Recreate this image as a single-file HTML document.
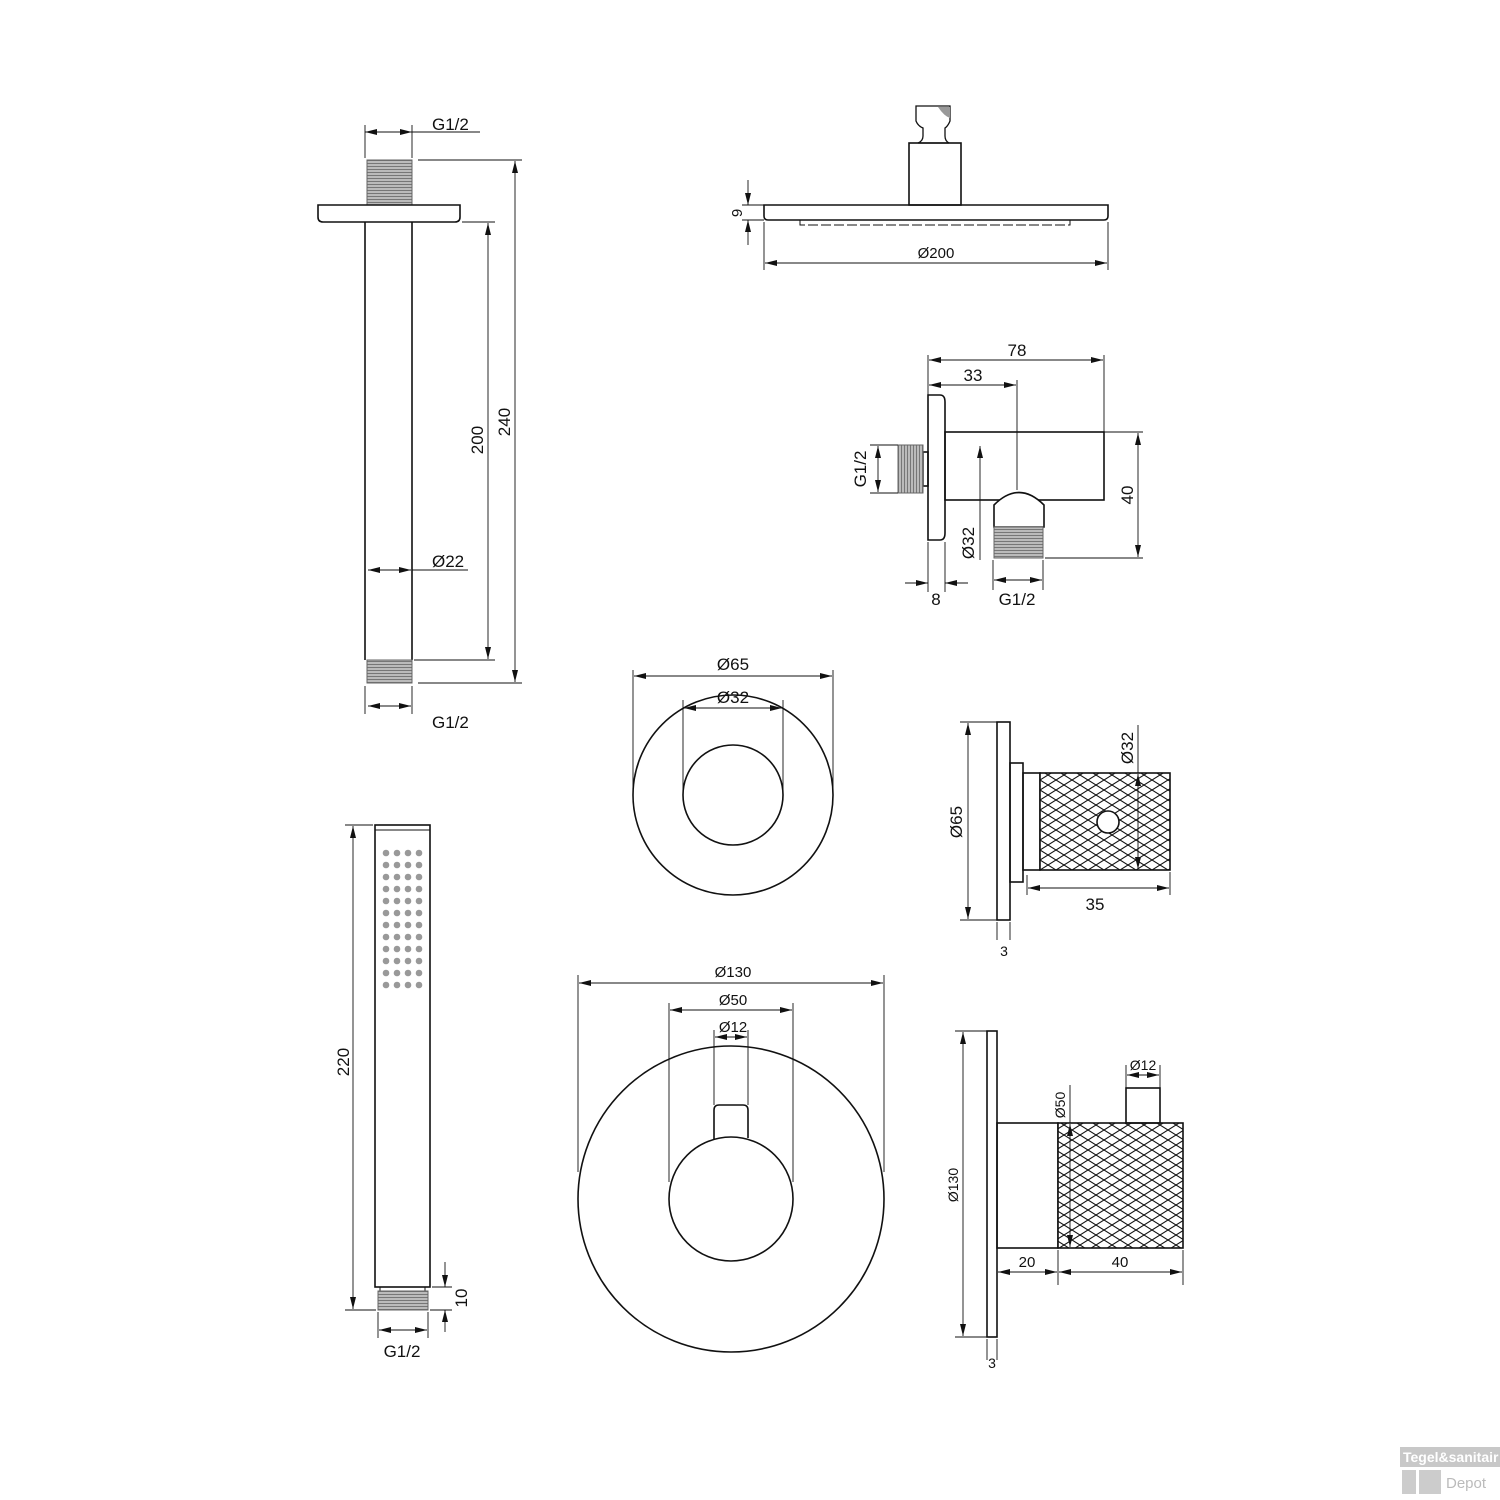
<!DOCTYPE html>
<html><head><meta charset="utf-8"><style>
html,body{margin:0;padding:0;background:#fff;}
svg{display:block;}
text{font-family:"Liberation Sans",sans-serif;fill:#111;}
</style></head><body>
<svg width="1500" height="1500" viewBox="0 0 1500 1500" xmlns="http://www.w3.org/2000/svg">
<defs>
<marker id="a" viewBox="0 0 12 6" refX="12" refY="3" markerWidth="12" markerHeight="6" markerUnits="userSpaceOnUse" orient="auto-start-reverse"><path d="M0,0 L12,3 L0,6 Z" fill="#111"/></marker>
<pattern id="th" width="6" height="3" patternUnits="userSpaceOnUse"><rect width="6" height="3" fill="#bbb"/><line x1="0" y1="1.5" x2="6" y2="1.5" stroke="#777" stroke-width="1"/></pattern>
<pattern id="thv" width="3" height="6" patternUnits="userSpaceOnUse"><rect width="3" height="6" fill="#bbb"/><line x1="1.5" y1="0" x2="1.5" y2="6" stroke="#777" stroke-width="1"/></pattern>
<pattern id="kn" width="16" height="10" patternUnits="userSpaceOnUse"><rect width="16" height="10" fill="#fff"/><path d="M0,0 L16,10 M0,10 L16,0 M-8,5 L0,10 M8,-5 L24,5 M-8,5 L8,-5 M8,15 L24,5" stroke="#111" stroke-width="1.1" fill="none"/></pattern>
</defs>
<g fill="none" stroke="#111" stroke-width="1.6">
<!-- ceiling arm -->
<rect x="367" y="160" width="45" height="45" fill="url(#th)" stroke="#666" stroke-width="1"/>
<path d="M318,205 H460 V217 Q460,222 455,222 H323 Q318,222 318,217 Z"/>
<path d="M365,222 V660 M412,222 V660"/>
<rect x="367" y="660" width="45" height="23" fill="url(#th)" stroke="#666" stroke-width="1"/>
</g>
<g fill="none" stroke="#111" stroke-width="0.9">
<path d="M365,125 V158 M412,125 V158 M412,132 H480"/>
<line x1="389" y1="132" x2="365" y2="132" marker-end="url(#a)"/><line x1="389" y1="132" x2="412" y2="132" marker-end="url(#a)"/>
<path d="M418,160 H522 M418,683 H522 M462,222 H495 M414,660 H495"/>
<line x1="515" y1="161" x2="515" y2="682" marker-start="url(#a)" marker-end="url(#a)"/>
<line x1="488" y1="223" x2="488" y2="659" marker-start="url(#a)" marker-end="url(#a)"/>
<line x1="368" y1="570" x2="411" y2="570" marker-start="url(#a)" marker-end="url(#a)"/><path d="M412,570 H468"/>
<path d="M365,686 V714 M412,686 V714"/>
<line x1="368" y1="706" x2="411" y2="706" marker-start="url(#a)" marker-end="url(#a)"/>
</g>
<text x="432" y="130" font-size="17">G1/2</text>
<text x="432" y="728" font-size="17">G1/2</text>
<text x="432" y="567" font-size="17">Ø22</text>
<text font-size="17" transform="translate(510,422) rotate(-90)" text-anchor="middle">240</text>
<text font-size="17" transform="translate(483,440) rotate(-90)" text-anchor="middle">200</text>

<!-- shower head -->
<g fill="none" stroke="#111" stroke-width="1.6">
<path d="M916,106 H950 V121 Q948,126 945,128 V136 Q945,141 949,143 H918 Q923,141 923,136 V128 Q918,126 916,121 Z" stroke-width="1.3"/>
<rect x="909" y="143" width="52" height="62"/>
<path d="M764,205 H1108 V216 Q1108,220 1104,220 H768 Q764,220 764,216 Z"/>
<path d="M800,220 V225 H1070 V220" stroke-width="1" stroke-dasharray="10,3"/>
</g>
<path d="M938,107 H950 V118 Q944,116 938,107 Z" fill="#999"/>
<g fill="none" stroke="#111" stroke-width="0.9">
<path d="M742,205 H764 M742,220 H764 M764,222 V270 M1108,222 V270"/>
<line x1="748" y1="180" x2="748" y2="205" marker-end="url(#a)"/><line x1="748" y1="245" x2="748" y2="220" marker-end="url(#a)"/>
<line x1="765" y1="263" x2="1107" y2="263" marker-start="url(#a)" marker-end="url(#a)"/>
</g>
<text font-size="15" transform="translate(742,213) rotate(-90)" text-anchor="middle">9</text>
<text x="936" y="258" font-size="15" text-anchor="middle">Ø200</text>

<!-- wall outlet -->
<g fill="none" stroke="#111" stroke-width="1.6">
<path d="M928,395 H940 Q945,395 945,402 V533 Q945,540 940,540 H928 Z"/>
<rect x="945" y="432" width="159" height="68"/>
<rect x="923" y="452" width="5" height="34"/>
<rect x="898" y="445" width="25" height="48" fill="url(#thv)" stroke="#666" stroke-width="1"/>
<path d="M994,527 V505 Q1019,480 1044,505 V527 Z" fill="#fff"/>
<rect x="994" y="527" width="49" height="31" fill="url(#th)" stroke="#666" stroke-width="1"/>
</g>
<g fill="none" stroke="#111" stroke-width="0.9">
<path d="M928,355 V395 M1104,355 V432 M1017,380 V490 M1104,432 H1143 M1045,558 H1143 M870,445 H898 M870,493 H898 M928,542 V592 M945,542 V592 M993,560 V590 M1043,560 V590"/>
<line x1="929" y1="360" x2="1103" y2="360" marker-start="url(#a)" marker-end="url(#a)"/>
<line x1="929" y1="385" x2="1016" y2="385" marker-start="url(#a)" marker-end="url(#a)"/>
<line x1="1138" y1="433" x2="1138" y2="557" marker-start="url(#a)" marker-end="url(#a)"/>
<line x1="980" y1="446" x2="980" y2="560" marker-start="url(#a)"/>
<line x1="878" y1="446" x2="878" y2="492" marker-start="url(#a)" marker-end="url(#a)"/>
<line x1="905" y1="583" x2="928" y2="583" marker-end="url(#a)"/><line x1="968" y1="583" x2="945" y2="583" marker-end="url(#a)"/>
<line x1="994" y1="580" x2="1042" y2="580" marker-start="url(#a)" marker-end="url(#a)"/>
</g>
<text x="1017" y="356" font-size="17" text-anchor="middle">78</text>
<text x="973" y="381" font-size="17" text-anchor="middle">33</text>
<text font-size="17" transform="translate(1133,495) rotate(-90)" text-anchor="middle">40</text>
<text font-size="17" transform="translate(974,543) rotate(-90)" text-anchor="middle">Ø32</text>
<text font-size="17" transform="translate(866,469) rotate(-90)" text-anchor="middle">G1/2</text>
<text x="936" y="605" font-size="17" text-anchor="middle">8</text>
<text x="1017" y="605" font-size="17" text-anchor="middle">G1/2</text>

<!-- Ø65 rosette front -->
<g fill="none" stroke="#111" stroke-width="1.6">
<circle cx="733" cy="795" r="100"/><circle cx="733" cy="795" r="50"/>
</g>
<g fill="none" stroke="#111" stroke-width="0.9">
<path d="M633,670 V795 M833,670 V795 M683,700 V795 M783,700 V795"/>
<line x1="634" y1="676" x2="832" y2="676" marker-start="url(#a)" marker-end="url(#a)"/>
<line x1="684" y1="708" x2="782" y2="708" marker-start="url(#a)" marker-end="url(#a)"/>
</g>
<text x="733" y="670" font-size="17" text-anchor="middle">Ø65</text>
<text x="733" y="703" font-size="17" text-anchor="middle">Ø32</text>

<!-- knob side -->
<g fill="none" stroke="#111" stroke-width="1.6">
<rect x="997" y="722" width="13" height="198"/>
<rect x="1010" y="763" width="13" height="119"/>
<rect x="1023" y="773" width="17" height="97"/>
<rect x="1040" y="773" width="130" height="97" fill="url(#kn)"/>
<circle cx="1108" cy="822" r="11" fill="#fff"/>
</g>
<g fill="none" stroke="#111" stroke-width="0.9">
<path d="M960,722 H997 M960,920 H997 M997,922 V940 M1010,922 V940 M1027,875 V895 M1170,872 V895 M1138,725 V773"/>
<line x1="968" y1="723" x2="968" y2="919" marker-start="url(#a)" marker-end="url(#a)"/>
<line x1="1138" y1="774" x2="1138" y2="869" marker-start="url(#a)" marker-end="url(#a)"/>
<line x1="1028" y1="888" x2="1169" y2="888" marker-start="url(#a)" marker-end="url(#a)"/>
</g>
<text font-size="17" transform="translate(962,822) rotate(-90)" text-anchor="middle">Ø65</text>
<text font-size="17" transform="translate(1133,748) rotate(-90)" text-anchor="middle">Ø32</text>
<text x="1095" y="910" font-size="17" text-anchor="middle">35</text>
<text x="1004" y="956" font-size="14" text-anchor="middle">3</text>

<!-- thermostat front -->
<g fill="none" stroke="#111" stroke-width="1.6">
<circle cx="731" cy="1199" r="153"/>
<circle cx="731" cy="1199" r="62"/>
<path d="M714,1140 V1110 Q714,1105 719,1105 H743 Q748,1105 748,1110 V1138"/>
</g>
<g fill="none" stroke="#111" stroke-width="0.9">
<path d="M578,975 V1172 M884,975 V1172 M669,1003 V1182 M793,1003 V1182 M714,1030 V1105 M748,1030 V1105"/>
<line x1="579" y1="983" x2="883" y2="983" marker-start="url(#a)" marker-end="url(#a)"/>
<line x1="670" y1="1010" x2="792" y2="1010" marker-start="url(#a)" marker-end="url(#a)"/>
<line x1="715" y1="1037" x2="747" y2="1037" marker-start="url(#a)" marker-end="url(#a)"/>
</g>
<text x="733" y="977" font-size="15" text-anchor="middle">Ø130</text>
<text x="733" y="1005" font-size="15" text-anchor="middle">Ø50</text>
<text x="733" y="1032" font-size="15" text-anchor="middle">Ø12</text>

<!-- thermostat side -->
<g fill="none" stroke="#111" stroke-width="1.6">
<rect x="987" y="1031" width="10" height="306"/>
<rect x="997" y="1123" width="61" height="125"/>
<rect x="1058" y="1123" width="125" height="125" fill="url(#kn)"/>
<rect x="1126" y="1088" width="34" height="35"/>
</g>
<g fill="none" stroke="#111" stroke-width="0.9">
<path d="M955,1031 H987 M955,1337 H987 M987,1339 V1360 M997,1339 V1360 M1058,1250 V1285 M1183,1250 V1285 M1070,1085 V1123 M1126,1065 V1088 M1160,1065 V1088"/>
<line x1="963" y1="1032" x2="963" y2="1336" marker-start="url(#a)" marker-end="url(#a)"/>
<line x1="1070" y1="1124" x2="1070" y2="1247" marker-start="url(#a)" marker-end="url(#a)"/>
<line x1="998" y1="1272" x2="1057" y2="1272" marker-start="url(#a)" marker-end="url(#a)"/>
<line x1="1059" y1="1272" x2="1182" y2="1272" marker-start="url(#a)" marker-end="url(#a)"/>
<line x1="1127" y1="1075" x2="1159" y2="1075" marker-start="url(#a)" marker-end="url(#a)"/>
</g>
<text font-size="14" transform="translate(958,1185) rotate(-90)" text-anchor="middle">Ø130</text>
<text font-size="14" transform="translate(1065,1105) rotate(-90)" text-anchor="middle">Ø50</text>
<text x="1143" y="1070" font-size="14" text-anchor="middle">Ø12</text>
<text x="1027" y="1267" font-size="15" text-anchor="middle">20</text>
<text x="1120" y="1267" font-size="15" text-anchor="middle">40</text>
<text x="992" y="1368" font-size="14" text-anchor="middle">3</text>

<!-- hand shower -->
<g fill="none" stroke="#111" stroke-width="1.6">
<rect x="375" y="825" width="55" height="462"/>
<path d="M375,830 H430" stroke-width="1"/>
<rect x="380" y="1287" width="45" height="4" stroke-width="1"/>
<rect x="378" y="1291" width="50" height="19" fill="url(#th)" stroke="#666" stroke-width="1"/>
</g>
<g fill="#888" stroke="none" id="dots">
</g>
<g fill="none" stroke="#111" stroke-width="0.9">
<path d="M345,825 H373 M345,1310 H376 M432,1287 H452 M430,1310 H452 M378,1312 V1338 M428,1312 V1338"/>
<line x1="353" y1="826" x2="353" y2="1309" marker-start="url(#a)" marker-end="url(#a)"/>
<line x1="445" y1="1262" x2="445" y2="1287" marker-end="url(#a)"/><line x1="445" y1="1332" x2="445" y2="1310" marker-end="url(#a)"/>
<line x1="379" y1="1330" x2="427" y2="1330" marker-start="url(#a)" marker-end="url(#a)"/>
</g>
<text font-size="17" transform="translate(349,1062) rotate(-90)" text-anchor="middle">220</text>
<text font-size="17" transform="translate(467,1298) rotate(-90)" text-anchor="middle">10</text>
<text x="402" y="1357" font-size="17" text-anchor="middle">G1/2</text>
<g fill="#999" stroke="none">
<circle cx="386" cy="853" r="3.3"/><circle cx="397" cy="853" r="3.3"/><circle cx="408" cy="853" r="3.3"/><circle cx="419" cy="853" r="3.3"/>
<circle cx="386" cy="865" r="3.3"/><circle cx="397" cy="865" r="3.3"/><circle cx="408" cy="865" r="3.3"/><circle cx="419" cy="865" r="3.3"/>
<circle cx="386" cy="877" r="3.3"/><circle cx="397" cy="877" r="3.3"/><circle cx="408" cy="877" r="3.3"/><circle cx="419" cy="877" r="3.3"/>
<circle cx="386" cy="889" r="3.3"/><circle cx="397" cy="889" r="3.3"/><circle cx="408" cy="889" r="3.3"/><circle cx="419" cy="889" r="3.3"/>
<circle cx="386" cy="901" r="3.3"/><circle cx="397" cy="901" r="3.3"/><circle cx="408" cy="901" r="3.3"/><circle cx="419" cy="901" r="3.3"/>
<circle cx="386" cy="913" r="3.3"/><circle cx="397" cy="913" r="3.3"/><circle cx="408" cy="913" r="3.3"/><circle cx="419" cy="913" r="3.3"/>
<circle cx="386" cy="925" r="3.3"/><circle cx="397" cy="925" r="3.3"/><circle cx="408" cy="925" r="3.3"/><circle cx="419" cy="925" r="3.3"/>
<circle cx="386" cy="937" r="3.3"/><circle cx="397" cy="937" r="3.3"/><circle cx="408" cy="937" r="3.3"/><circle cx="419" cy="937" r="3.3"/>
<circle cx="386" cy="949" r="3.3"/><circle cx="397" cy="949" r="3.3"/><circle cx="408" cy="949" r="3.3"/><circle cx="419" cy="949" r="3.3"/>
<circle cx="386" cy="961" r="3.3"/><circle cx="397" cy="961" r="3.3"/><circle cx="408" cy="961" r="3.3"/><circle cx="419" cy="961" r="3.3"/>
<circle cx="386" cy="973" r="3.3"/><circle cx="397" cy="973" r="3.3"/><circle cx="408" cy="973" r="3.3"/><circle cx="419" cy="973" r="3.3"/>
<circle cx="386" cy="985" r="3.3"/><circle cx="397" cy="985" r="3.3"/><circle cx="408" cy="985" r="3.3"/><circle cx="419" cy="985" r="3.3"/>
</g>

<!-- watermark -->
<rect x="1400" y="1447" width="100" height="20" fill="#c8c8c8"/>
<text x="1403" y="1462" font-size="14" font-weight="bold" style="fill:#fff">Tegel&amp;sanitair</text>
<rect x="1402" y="1470" width="14" height="24" fill="#ccc"/>
<rect x="1419" y="1470" width="22" height="24" fill="#ccc"/>
<text x="1446" y="1488" font-size="15" style="fill:#bbb">Depot</text>
</svg>
</body></html>
